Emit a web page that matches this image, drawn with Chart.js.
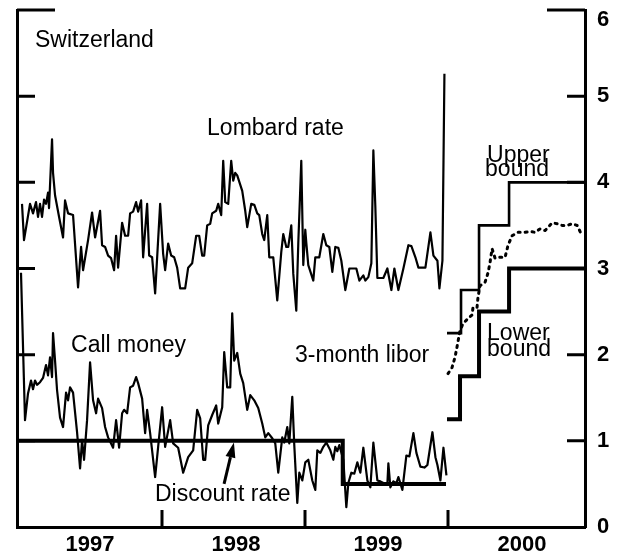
<!DOCTYPE html>
<html>
<head>
<meta charset="utf-8">
<script src="https://cdn.jsdelivr.net/npm/chart.js@4.4.0/dist/chart.umd.min.js"></script>
<style>
  html, body { margin: 0; padding: 0; background: #fff; }
</style>
</head>
<body>
<canvas id="grafico" width="620" height="554"></canvas>
<script>
// Switzerland - short rates, percent. Dates are decimal years.

var lombardDatas = [1997.021, 1997.035, 1997.077, 1997.098, 1997.119, 1997.133, 1997.147, 1997.161, 1997.175, 1997.189,
    1997.203, 1997.210, 1997.231, 1997.238, 1997.252, 1997.280, 1997.308, 1997.322, 1997.343, 1997.378,
    1997.413, 1997.434, 1997.448, 1997.483, 1997.511, 1997.532, 1997.567, 1997.581, 1997.602, 1997.623,
    1997.644, 1997.665, 1997.679, 1997.693, 1997.721, 1997.742, 1997.763, 1997.777, 1997.798, 1997.819,
    1997.833, 1997.854, 1997.868, 1997.896, 1997.910, 1997.931, 1997.952, 1997.987, 1998.008, 1998.022,
    1998.043, 1998.064, 1998.085, 1998.106, 1998.127, 1998.162, 1998.183, 1998.211, 1998.239, 1998.260,
    1998.281, 1998.295, 1998.316, 1998.337, 1998.351, 1998.379, 1998.393, 1998.414, 1998.428, 1998.442,
    1998.463, 1998.484, 1998.498, 1998.512, 1998.526, 1998.561, 1998.582, 1998.596, 1998.624, 1998.645,
    1998.666, 1998.680, 1998.701, 1998.715, 1998.736, 1998.750, 1998.778, 1998.806, 1998.834, 1998.848,
    1998.869, 1998.883, 1998.904, 1998.918, 1998.939, 1998.953, 1998.974, 1998.988, 1999.002, 1999.009,
    1999.023, 1999.058, 1999.072, 1999.100, 1999.128, 1999.149, 1999.170, 1999.191, 1999.212, 1999.233,
    1999.254, 1999.282, 1999.310, 1999.359, 1999.380, 1999.408, 1999.422, 1999.443, 1999.464, 1999.478,
    1999.492, 1999.506, 1999.548, 1999.576, 1999.604, 1999.625, 1999.653, 1999.688, 1999.723, 1999.744,
    1999.772, 1999.793, 1999.842, 1999.877, 1999.898, 1999.926, 1999.940, 1999.961, 1999.975];
var lombardTaxas = [3.75, 3.33, 3.75, 3.64, 3.77, 3.60, 3.75, 3.60, 3.80, 3.75,
    3.88, 3.70, 4.50, 4.11, 3.85, 3.60, 3.36, 3.79, 3.64, 3.62,
    2.78, 3.25, 2.98, 3.33, 3.65, 3.36, 3.67, 3.27, 3.25, 3.15,
    3.12, 2.98, 3.38, 3.01, 3.53, 3.38, 3.38, 3.64, 3.66, 3.77,
    3.66, 3.79, 3.13, 3.75, 3.15, 3.13, 2.71, 3.75, 3.17, 2.98,
    3.29, 3.15, 3.13, 3.01, 2.77, 2.77, 3.01, 3.06, 3.38, 3.38,
    3.15, 3.15, 3.50, 3.52, 3.64, 3.67, 3.75, 3.62, 4.25, 3.77,
    3.75, 4.25, 4.02, 4.11, 4.08, 3.90, 3.67, 3.48, 3.75, 3.74,
    3.64, 3.62, 3.40, 3.33, 3.62, 3.13, 3.13, 2.63, 3.19, 3.40,
    3.25, 3.25, 3.50, 2.94, 2.51, 3.29, 4.25, 3.04, 3.45, 3.30,
    3.04, 2.86, 3.13, 3.13, 3.40, 3.27, 3.25, 2.96, 3.25, 3.24,
    3.09, 2.75, 3.00, 3.00, 2.86, 2.92, 2.86, 2.90, 3.06, 4.37,
    3.71, 2.89, 2.89, 3.00, 2.75, 3.00, 2.75, 3.00, 3.27, 3.26,
    3.13, 3.01, 3.01, 3.42, 3.15, 3.09, 2.77, 3.09, 5.26];

var callDatas = [1997.014, 1997.042, 1997.063, 1997.084, 1997.098, 1997.112, 1997.126, 1997.147, 1997.168, 1997.189,
    1997.203, 1997.217, 1997.231, 1997.238, 1997.252, 1997.266, 1997.287, 1997.308, 1997.329, 1997.343,
    1997.357, 1997.378, 1997.406, 1997.427, 1997.441, 1997.455, 1997.476, 1997.497, 1997.518, 1997.539,
    1997.553, 1997.581, 1997.602, 1997.623, 1997.658, 1997.679, 1997.700, 1997.721, 1997.735, 1997.756,
    1997.777, 1997.798, 1997.819, 1997.833, 1997.861, 1997.882, 1997.896, 1997.917, 1997.952, 1997.973,
    1998.001, 1998.022, 1998.057, 1998.078, 1998.113, 1998.148, 1998.183, 1998.218, 1998.246, 1998.267,
    1998.288, 1998.302, 1998.323, 1998.351, 1998.379, 1998.393, 1998.421, 1998.435, 1998.456, 1998.477,
    1998.491, 1998.505, 1998.526, 1998.547, 1998.568, 1998.596, 1998.617, 1998.645, 1998.673, 1998.701,
    1998.722, 1998.743, 1998.771, 1998.792, 1998.813, 1998.841, 1998.855, 1998.876, 1998.890, 1998.911,
    1998.925, 1998.946, 1998.960, 1998.981, 1999.002, 1999.023, 1999.051, 1999.072, 1999.086, 1999.107,
    1999.128, 1999.149, 1999.177, 1999.198, 1999.212, 1999.226, 1999.240, 1999.268, 1999.289, 1999.303,
    1999.324, 1999.345, 1999.366, 1999.387, 1999.408, 1999.436, 1999.457, 1999.478, 1999.506, 1999.527,
    1999.548, 1999.576, 1999.583, 1999.597, 1999.618, 1999.639, 1999.653, 1999.681, 1999.709, 1999.730,
    1999.758, 1999.779, 1999.807, 1999.835, 1999.856, 1999.891, 1999.912, 1999.926, 1999.947, 1999.968,
    1999.989];
var callTaxas = [2.95, 1.24, 1.55, 1.70, 1.60, 1.70, 1.65, 1.68, 1.73, 1.88,
    1.76, 1.97, 1.74, 2.25, 1.93, 1.59, 1.27, 1.16, 1.56, 1.47,
    1.62, 1.56, 1.10, 0.68, 1.01, 0.78, 1.24, 1.91, 1.47, 1.32,
    1.49, 1.38, 1.16, 1.04, 0.92, 1.24, 0.92, 1.32, 1.36, 1.32,
    1.62, 1.64, 1.74, 1.67, 1.49, 1.09, 1.36, 1.09, 0.58, 0.93,
    1.39, 0.93, 1.24, 0.97, 0.92, 0.63, 0.81, 0.89, 1.36, 1.26,
    0.78, 0.78, 1.18, 1.30, 1.41, 1.20, 1.39, 2.03, 1.62, 1.62,
    2.48, 1.93, 2.02, 1.78, 1.67, 1.36, 1.53, 1.47, 1.38, 1.20,
    1.04, 1.09, 1.03, 0.97, 0.63, 1.04, 0.98, 1.16, 0.97, 1.51,
    0.95, 0.28, 0.63, 0.54, 0.75, 0.78, 0.54, 0.43, 0.89, 0.86,
    0.93, 0.98, 0.89, 0.78, 0.93, 0.88, 0.95, 0.78, 0.23, 0.51,
    0.63, 0.62, 0.75, 0.63, 0.92, 0.54, 0.46, 0.98, 0.54, 0.53,
    0.51, 0.50, 0.74, 0.46, 0.53, 0.51, 0.58, 0.43, 0.83, 0.82,
    1.09, 0.86, 0.70, 0.69, 0.72, 1.10, 0.81, 0.72, 0.54, 0.92,
    0.60];

var descontoDatas = [1996.986, 1999.264, 1999.986];
var descontoTaxas = [1.00, 0.50, 0.50];

var superiorDatas = [1999.993, 2000.091, 2000.217, 2000.427, 2000.958];
var superiorTaxas = [2.25, 2.75, 3.50, 4.00, 4.00];

var inferiorDatas = [1999.993, 2000.084, 2000.217, 2000.427, 2000.958];
var inferiorTaxas = [1.25, 1.75, 2.50, 3.00, 3.00];

var liborDatas = [2000.000, 2000.028, 2000.049, 2000.063, 2000.084, 2000.105, 2000.140, 2000.168, 2000.175, 2000.203,
    2000.210, 2000.224, 2000.259, 2000.280, 2000.294, 2000.308, 2000.329, 2000.364, 2000.399, 2000.420,
    2000.448, 2000.490, 2000.539, 2000.574, 2000.609, 2000.644, 2000.679, 2000.728, 2000.763, 2000.798,
    2000.833, 2000.868, 2000.903, 2000.938];
var liborTaxas = [1.78, 1.85, 1.97, 2.09, 2.28, 2.36, 2.42, 2.46, 2.55, 2.55,
    2.67, 2.80, 2.84, 2.95, 3.07, 3.23, 3.12, 3.13, 3.13, 3.27,
    3.38, 3.42, 3.42, 3.43, 3.42, 3.46, 3.44, 3.53, 3.52, 3.50,
    3.50, 3.52, 3.50, 3.38];

// axis: year labels sit mid-year, tick marks at year starts
var anoRotulos = [1997.497, 1998.517, 1999.51, 2000.517];
var anoMarcas = [1998, 1999, 2000];
var taxaMarcas = [1, 2, 3, 4, 5, 6];

var fonte = '"Liberation Sans", Arial, Helvetica, sans-serif';

function juntar(datas, taxas) {
    return datas.map(function (d, i) { return { x: d, y: taxas[i] }; });
}

// series labels and arrow (in data units)
var rotulos = [
    { texto: 'Switzerland', x: 1997.112, y: 5.57 },
    { texto: 'Lombard rate', x: 1998.315, y: 4.55 },
    { texto: 'Upper', x: 2000.273, y: 4.24 },
    { texto: 'bound', x: 2000.259, y: 4.07 },
    { texto: 'Call money', x: 1997.364, y: 2.03 },
    { texto: '3-month libor', x: 1998.930, y: 1.915 },
    { texto: 'Lower', x: 2000.273, y: 2.17 },
    { texto: 'bound', x: 2000.273, y: 1.984 },
    { texto: 'Discount rate', x: 1997.951, y: 0.30 }
];
var seta = { x0: 1998.434, y0: 0.50, x1: 1998.503, y1: 0.98 };

var extras = {
    id: 'extras',
    afterDraw: function (chart) {
        var ctx = chart.ctx;
        var area = chart.chartArea;
        var sx = chart.scales.x;
        var sy = chart.scales.yr;
        ctx.save();
        ctx.strokeStyle = '#000';
        ctx.lineWidth = 3;
        ctx.beginPath();
        taxaMarcas.forEach(function (v) {
            var py = sy.getPixelForValue(v);
            var len = v === 6 ? 38 : 18;
            ctx.moveTo(area.left, py);
            ctx.lineTo(area.left + len, py);
            ctx.moveTo(area.right, py);
            ctx.lineTo(area.right - len, py);
        });
        anoMarcas.forEach(function (v) {
            var px = sx.getPixelForValue(v);
            ctx.moveTo(px, area.bottom);
            ctx.lineTo(px, area.bottom - 17);
        });
        ctx.stroke();

        ctx.fillStyle = '#000';

        // top label "6" would be cut off at the edge, so it sits a bit lower
        ctx.font = 'bold 22px ' + fonte;
        ctx.textBaseline = 'middle';
        ctx.textAlign = 'left';
        ctx.fillText('6', area.right + 12, sy.getPixelForValue(6) + 10);

        ctx.font = '23px ' + fonte;
        ctx.textBaseline = 'alphabetic';
        rotulos.forEach(function (r) {
            ctx.fillText(r.texto, sx.getPixelForValue(r.x), sy.getPixelForValue(r.y));
        });

        // arrow to discount rate
        var ax = sx.getPixelForValue(seta.x0), ay = sy.getPixelForValue(seta.y0);
        var bx = sx.getPixelForValue(seta.x1), by = sy.getPixelForValue(seta.y1);
        var ang = Math.atan2(by - ay, bx - ax);
        var cab = 15, larg = 5;
        var hx = bx - cab * Math.cos(ang), hy = by - cab * Math.sin(ang);
        ctx.lineWidth = 3;
        ctx.beginPath();
        ctx.moveTo(ax, ay);
        ctx.lineTo(hx, hy);
        ctx.stroke();
        ctx.beginPath();
        ctx.moveTo(bx, by);
        ctx.lineTo(hx + larg * Math.sin(ang), hy - larg * Math.cos(ang));
        ctx.lineTo(hx - larg * Math.sin(ang), hy + larg * Math.cos(ang));
        ctx.closePath();
        ctx.fill();
        ctx.restore();
    }
};

function linha(dados, largura, extra) {
    var ds = {
        data: dados,
        borderColor: '#000',
        borderWidth: largura,
        pointRadius: 0,
        tension: 0,
        fill: false,
        borderJoinStyle: 'round',
        xAxisID: 'x',
        yAxisID: 'yr'
    };
    for (var k in extra) ds[k] = extra[k];
    return ds;
}

const ctx = document.getElementById('grafico');
new Chart(ctx, {
    type: 'line',
    data: {
        datasets: [
            linha(juntar(lombardDatas, lombardTaxas), 2.2),
            linha(juntar(callDatas, callTaxas), 2.2),
            linha(juntar(descontoDatas, descontoTaxas), 4, { stepped: 'before', borderJoinStyle: 'miter' }),
            linha(juntar(superiorDatas, superiorTaxas), 2.6, { stepped: 'before', borderJoinStyle: 'miter' }),
            linha(juntar(inferiorDatas, inferiorTaxas), 4, { stepped: 'before', borderJoinStyle: 'miter' }),
            linha(juntar(liborDatas, liborTaxas), 3, { borderDash: [2, 5], borderCapStyle: 'round' })
        ]
    },
    options: {
        responsive: false,
        animation: false,
        parsing: false,
        layout: { padding: { top: 10, left: 0, right: 0, bottom: 0 } },
        plugins: {
            legend: { display: false },
            tooltip: { enabled: false }
        },
        scales: {
            x: {
                type: 'linear',
                min: 1996.986,
                max: 2000.958,
                grid: { display: false, drawTicks: false },
                border: { display: true, color: '#000', width: 3 },
                afterBuildTicks: function (axis) {
                    axis.ticks = anoRotulos.map(function (v) { return { value: v }; });
                },
                ticks: {
                    autoSkip: false,
                    maxRotation: 0,
                    padding: 5,
                    color: '#000',
                    font: { family: fonte, size: 22, weight: 'bold' },
                    callback: function (v) { return String(Math.floor(v)); }
                },
                afterFit: function (axis) {
                    axis.height = 27;
                    axis.paddingLeft = 0;
                    axis.paddingRight = 0;
                }
            },
            yl: {
                type: 'linear',
                position: 'left',
                min: 0,
                max: 6,
                grid: { display: false, drawTicks: false },
                border: { display: true, color: '#000', width: 3 },
                ticks: { display: false },
                afterFit: function (axis) {
                    axis.width = 17;
                    axis.paddingTop = 0;
                    axis.paddingBottom = 0;
                }
            },
            yr: {
                type: 'linear',
                position: 'right',
                min: 0,
                max: 6,
                grid: { display: false, drawTicks: false },
                border: { display: true, color: '#000', width: 3 },
                ticks: {
                    stepSize: 1,
                    padding: 12,
                    color: '#000',
                    font: { family: fonte, size: 22, weight: 'bold' },
                    callback: function (v) { return v === 6 ? '' : String(v); }
                },
                afterFit: function (axis) {
                    axis.width = 35;
                    axis.paddingTop = 0;
                    axis.paddingBottom = 0;
                }
            }
        }
    },
    plugins: [extras]
});
</script>
</body>
</html>
